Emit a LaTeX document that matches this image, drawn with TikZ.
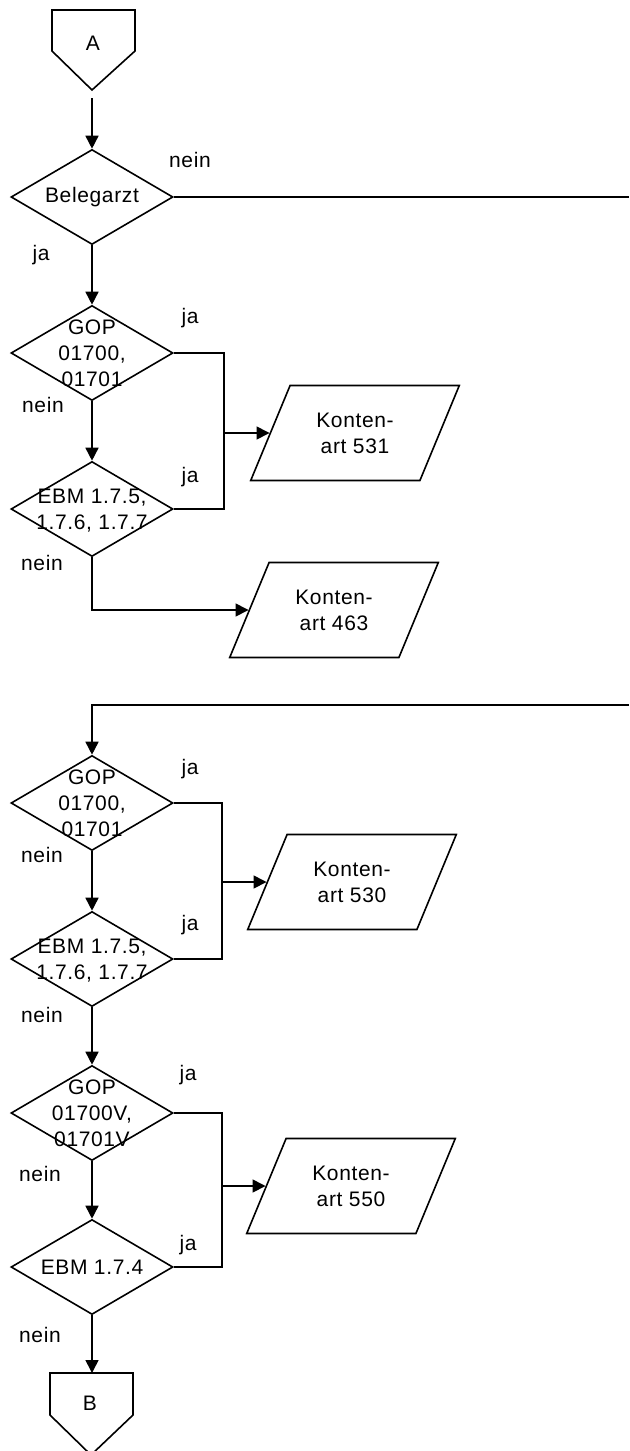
\documentclass[tikz,border=0pt]{standalone}
\usepackage{fontspec}
\setmainfont{Liberation Sans}[LetterSpace=3]
\usetikzlibrary{shapes.geometric,arrows.meta}
\begin{document}
\begin{tikzpicture}[x=0.5pt,y=-0.5pt,line width=0.8pt,
  font=\fontsize{10.5}{13}\selectfont,
  arr/.style={-{Triangle[length=6.5pt,width=6.5pt]}},
  dec/.style={draw,diamond,minimum width=81pt,minimum height=47.5pt,inner sep=0pt},
  txt/.style={align=center,inner sep=0pt},
  io/.style={draw,trapezium,trapezium left angle=63,trapezium right angle=117,
    trapezium stretches=true,minimum width=104.5pt,minimum height=47.5pt,align=center},
  lbl/.style={inner sep=0pt}]
\useasboundingbox (0,0) rectangle (629,1451);
% off-page connector A
\draw (52,10) -- (135,10) -- (135,51) -- (92,90) -- (52,51) -- cycle;
\node[txt] (A) at (93,43) {A};
\coordinate (Atip) at (92,90);
% decisions
\node[dec] (bel) at (92,197) {};
\node[txt] (belt) at (bel.center) {Belegarzt};
\node[dec] (gop1) at (92,353) {};
\node[txt] (gop1t) at (gop1.center) {GOP\\01700,\\01701};
\node[dec] (ebm1) at (92,509) {};
\node[txt] (ebm1t) at (92,511) {EBM 1.7.5,\\1.7.6, 1.7.7};
\node[dec] (gop2) at (92,803) {};
\node[txt] (gop2t) at (gop2.center) {GOP\\01700,\\01701};
\node[dec] (ebm2) at (92,959) {};
\node[txt] (ebm2t) at (92,961) {EBM 1.7.5,\\1.7.6, 1.7.7};
\node[dec] (gop3) at (92,1113) {};
\node[txt] (gop3t) at (gop3.center) {GOP\\01700V,\\01701V};
\node[dec] (ebm3) at (92,1267) {};
\node[txt] (ebm3t) at (ebm3.center) {EBM 1.7.4};
% outputs
\node[io] (p531) at (355,433) {Konten-\\art 531};
\node[io] (p463) at (334,610) {Konten-\\art 463};
\node[io] (p530) at (352,882) {Konten-\\art 530};
\node[io] (p550) at (351,1186) {Konten-\\art 550};
% off-page connector B
\draw (50,1373) -- (133,1373) -- (133,1415) -- (91,1455) -- (50,1415) -- cycle;
\node[txt] (B) at (90,1403) {B};
\coordinate (Btop) at (92,1373);
% labels
\node[lbl] (l1) at (190,160) {nein};
\node[lbl] (l2) at (41,255) {ja};
\node[lbl] (l3) at (190,318) {ja};
\node[lbl] (l4) at (43,405) {nein};
\node[lbl] (l5) at (190,477) {ja};
\node[lbl] (l6) at (42,563) {nein};
\node[lbl] (l7) at (190,769) {ja};
\node[lbl] (l8) at (42,855) {nein};
\node[lbl] (l9) at (190,925) {ja};
\node[lbl] (l10) at (42,1015) {nein};
\node[lbl] (l11) at (188,1075) {ja};
\node[lbl] (l12) at (40,1174) {nein};
\node[lbl] (l13) at (188,1245) {ja};
\node[lbl] (l14) at (40,1335) {nein};
% coordinates
\coordinate (out1) at (629,197);
\coordinate (in1) at (629,705);
\coordinate (in2) at (92,705);
\coordinate (k1) at (92,610);
\coordinate (r1a) at (224,353);
\coordinate (r1b) at (224,509);
\coordinate (r1c) at (224,433);
\coordinate (r2a) at (222,803);
\coordinate (r2b) at (222,959);
\coordinate (r2c) at (222,882);
\coordinate (r3a) at (222,1113);
\coordinate (r3b) at (222,1267);
\coordinate (r3c) at (222,1186);
% connectors
\draw[arr,shorten <=4pt] (Atip) -- (bel.north);
\draw (bel.east) -- (out1);
\draw[arr] (bel.south) -- (gop1.north);
\draw[arr] (gop1.south) -- (ebm1.north);
\draw (gop1.east) -- (r1a) -- (r1b) -- (ebm1.east);
\draw[arr] (r1c) -- (p531);
\draw[arr] (ebm1.south) -- (k1) -- (p463);
\draw[arr] (in1) -- (in2) -- (gop2.north);
\draw[arr] (gop2.south) -- (ebm2.north);
\draw (gop2.east) -- (r2a) -- (r2b) -- (ebm2.east);
\draw[arr] (r2c) -- (p530);
\draw[arr] (ebm2.south) -- (gop3.north);
\draw[arr] (gop3.south) -- (ebm3.north);
\draw (gop3.east) -- (r3a) -- (r3b) -- (ebm3.east);
\draw[arr] (r3c) -- (p550);
\draw[arr] (ebm3.south) -- (Btop);
\end{tikzpicture}
\end{document}
